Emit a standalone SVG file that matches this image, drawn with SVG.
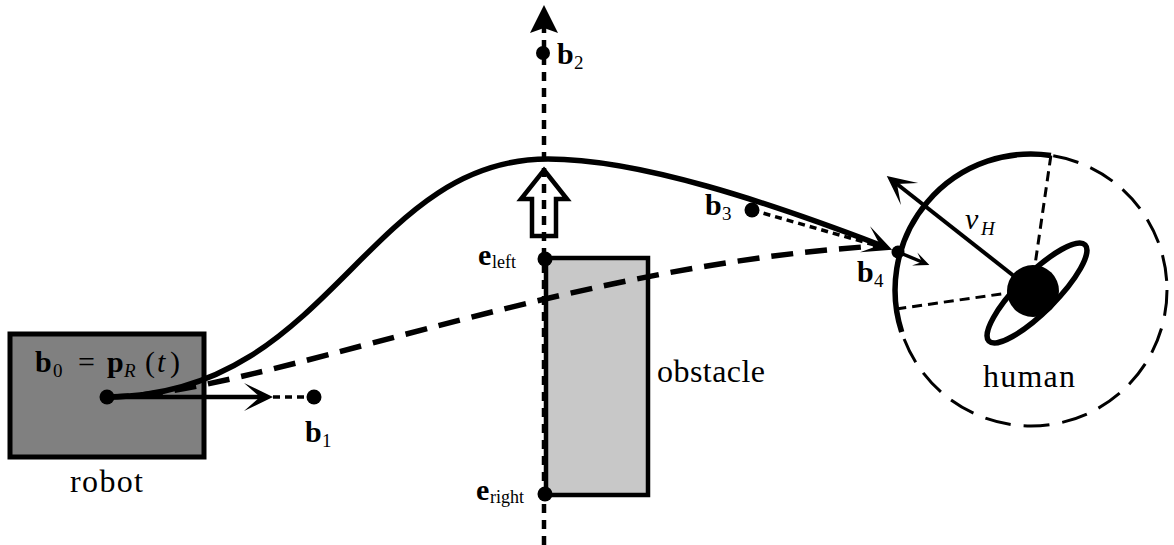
<svg xmlns="http://www.w3.org/2000/svg" width="1174" height="545" viewBox="0 0 1174 545">
<style>
text{font-family:"Liberation Serif","Times New Roman",serif;font-size:30px;fill:#000}
.big{font-size:32px}
.bf{font-weight:bold}
.it{font-style:italic}
.sub{font-size:19px}
.dot{fill:#000}
.ln{fill:none;stroke:#000}
</style>
<defs>
<marker id="stealth" markerUnits="userSpaceOnUse" viewBox="-18 -16 34 32" markerWidth="34" markerHeight="32" refX="0" refY="0" orient="auto" overflow="visible">
<path d="M13,0 L-16,-14 L0,0 L-16,14 Z" fill="#000"/>
</marker>
<marker id="tall" markerUnits="userSpaceOnUse" viewBox="-6 -15 30 30" markerWidth="30" markerHeight="30" refX="0" refY="0" orient="auto" overflow="visible">
<path d="M23,0 L-5,-14 L0,0 L-5,14 Z" fill="#000"/>
</marker>
<marker id="small" markerUnits="userSpaceOnUse" viewBox="-10 -8 20 16" markerWidth="20" markerHeight="16" refX="0" refY="0" orient="auto" overflow="visible">
<path d="M8,0 L-8,-7 L0,0 L-8,7 Z" fill="#000"/>
</marker>
</defs>
<rect width="1174" height="545" fill="#fff"/>

<g id="robot">
<rect x="10" y="334" width="194" height="123" fill="#808080" stroke="#000" stroke-width="5"/>
<text x="70" y="492" class="big" textLength="73" lengthAdjust="spacing">robot</text>
</g>

<g id="obstacle">
<rect x="546" y="258" width="102" height="237" fill="#c8c8c8" stroke="#000" stroke-width="4.5"/>
<text x="657" y="382" class="big" textLength="108" lengthAdjust="spacing">obstacle</text>
</g>

<g id="hollow-arrow">
<path d="M544,170 L567,199 L556,199 L556,236 L532,236 L532,199 L521,199 Z" fill="#fff" stroke="#000" stroke-width="4.5" stroke-linejoin="miter"/>
</g>

<g id="connectors">
<path id="gap-line" class="ln" d="M544,545 L544,28" stroke-width="4.5" stroke-dasharray="9 7" marker-end="url(#tall)"/>
<path id="straight-path" class="ln" d="M107,397 C250,397 560,265 878,246" stroke-width="5.5" stroke-dasharray="22 12"/>
<path id="trajectory" class="ln" d="M107,397 C330,397 365,159 548,159 C640,159 770,203 880,245" stroke-width="5.5" marker-end="url(#stealth)"/>
<path class="ln" d="M107,397 L260,397" stroke-width="4.5" marker-end="url(#stealth)"/>
<path class="ln" d="M273,397 L313,397" stroke-width="3.5" stroke-dasharray="7 5"/>
<path class="ln" d="M752,210 L885,248" stroke-width="3.5" stroke-dasharray="7 5"/>
<path class="ln" d="M898,252 L922,262" stroke-width="3.5" marker-end="url(#small)"/>
</g>

<g id="human">
<circle cx="1031" cy="290" r="136" class="ln" stroke-width="3" stroke-dasharray="26 13"/>
<path class="ln" d="M1050.9,155.5 A136,136 0 0 0 901.7,332" stroke-width="5.5"/>
<path class="ln" d="M1050.9,155.5 L1035,265" stroke-width="3" stroke-dasharray="10 6"/>
<path class="ln" d="M896.3,308.9 L1008,293" stroke-width="3" stroke-dasharray="10 6"/>
<ellipse cx="1037" cy="293" rx="68" ry="19" transform="rotate(-45 1037 293)" class="ln" stroke-width="5.5"/>
<circle cx="1033" cy="291" r="26" class="dot"/>
<path class="ln" d="M1033,291 L897,184" stroke-width="4" marker-end="url(#stealth)"/>
<text x="965" y="229" class="it">v<tspan x="981" dy="6" class="sub">H</tspan></text>
<text x="983" y="387" class="big" textLength="92" lengthAdjust="spacing">human</text>
</g>

<g id="b0">
<circle cx="107" cy="397" r="7.5" class="dot"/>
<text y="372"><tspan x="35" class="bf">b</tspan><tspan x="53" dy="5" class="sub">0</tspan><tspan x="78" dy="-5">=</tspan><tspan x="107" class="bf">p</tspan><tspan x="124" dy="5" class="sub it">R</tspan><tspan x="145" dy="-5">(</tspan><tspan x="157" class="it">t</tspan><tspan x="170">)</tspan></text>
</g>
<g id="b1">
<circle cx="314" cy="397" r="7.5" class="dot"/>
<text y="442"><tspan x="305" class="bf">b</tspan><tspan x="322" dy="5" class="sub">1</tspan></text>
</g>
<g id="b2">
<circle cx="543" cy="53" r="7" class="dot"/>
<text y="64"><tspan x="557" class="bf">b</tspan><tspan x="574" dy="5" class="sub">2</tspan></text>
</g>
<g id="b3">
<circle cx="752" cy="210" r="7.5" class="dot"/>
<text y="215"><tspan x="705" class="bf">b</tspan><tspan x="722" dy="5" class="sub">3</tspan></text>
</g>
<g id="b4">
<circle cx="898" cy="252" r="6.5" class="dot"/>
<text y="282"><tspan x="857" class="bf">b</tspan><tspan x="874" dy="5" class="sub">4</tspan></text>
</g>
<g id="e-left">
<circle cx="545" cy="259" r="7.5" class="dot"/>
<text y="265"><tspan x="478" class="bf">e</tspan><tspan x="492" dy="3" font-size="18px">left</tspan></text>
</g>
<g id="e-right">
<circle cx="545" cy="494" r="7.5" class="dot"/>
<text y="500"><tspan x="476" class="bf">e</tspan><tspan x="490" dy="3" font-size="18px">right</tspan></text>
</g>
</svg>
